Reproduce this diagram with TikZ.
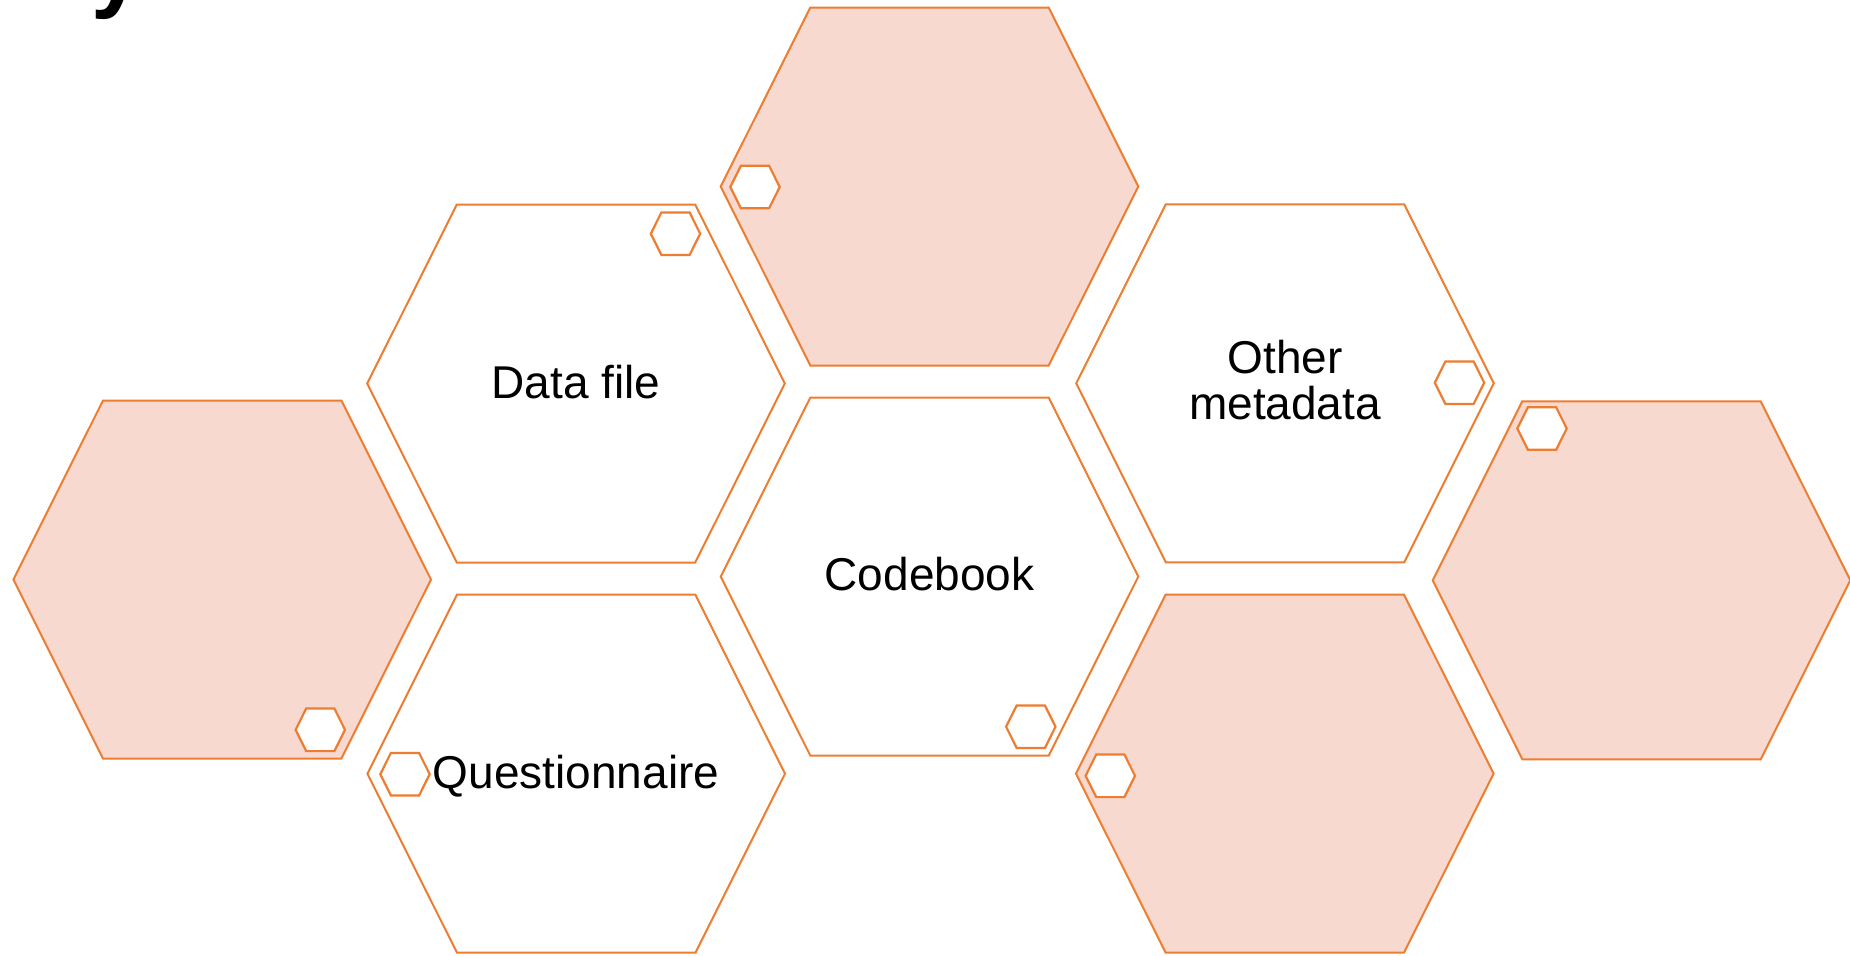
\documentclass[tikz,border=0pt]{standalone}
\usepackage{fontspec}
\setmainfont{Liberation Sans}
\definecolor{hexorange}{HTML}{ED7D31}
\definecolor{hexfill}{HTML}{F8D9CF}
\tikzset{
  hexline/.style={draw=hexorange, line width=1.0pt, line join=miter},
  hexfilled/.style={hexline, fill=hexfill},
  hexwhite/.style={hexline, fill=white},
  minihex/.style={draw=hexorange, line width=1.1pt, line join=miter, fill=white},
  pics/bighex/.style={code={\path[#1] (-208.8,0) -- (-119.2,-179) -- (119.2,-179) -- (208.8,0) -- (119.2,179) -- (-119.2,179) -- cycle;}},
  pics/smallhex/.style={code={\path[minihex] (-24.7,0) -- (-14.1,-21.3) -- (14.1,-21.3) -- (24.7,0) -- (14.1,21.3) -- (-14.1,21.3) -- cycle;}},
  hexlabel/.style={font=\fontsize{23}{23.35}\selectfont, text=black, inner sep=0pt, align=center},
}
\begin{document}
\begin{tikzpicture}[x=0.5pt, y=-0.5pt]
\useasboundingbox (0,0) rectangle (1850,955);
% large hexagons
\pic (hT) at (929.5,186.5) {bighex=hexfilled};
\pic (hD) at (576,383.5) {bighex=hexwhite};
\pic (hO) at (1285,383.3) {bighex=hexwhite};
\pic (hL) at (222.2,579.5) {bighex=hexfilled};
\pic (hC) at (929.5,576.6) {bighex=hexwhite};
\pic (hR) at (1641.5,580.3) {bighex=hexfilled};
\pic (hQ) at (576.2,773.7) {bighex=hexwhite};
\pic (hB) at (1284.8,773.6) {bighex=hexfilled};
% small hexagons
\pic (sT) at (755,187) {smallhex};
\pic (sD) at (675.5,233.7) {smallhex};
\pic (sO) at (1459.5,382.7) {smallhex};
\pic (sL) at (320.3,729.8) {smallhex};
\pic (sC) at (1030.8,726.7) {smallhex};
\pic (sR) at (1542,428.5) {smallhex};
\pic (sQ) at (405,774.2) {smallhex};
\pic (sB) at (1110.3,775.8) {smallhex};
% labels
\node[hexlabel, anchor=base] (tData) at (576,398.3) {Data file};
\node[hexlabel, anchor=center] (tOther) at (1285,379.9) {Other\\metadata};
\node[hexlabel, anchor=base] (tCode) at (929.5,590.7) {Codebook};
\node[hexlabel, anchor=base] (tQuest) at (576,788.3) {Questionnaire};
% fragment of a title above the picture
\node[font=\fontsize{46}{46}\selectfont\bfseries, anchor=base west, inner sep=0pt] (titlefrag) at (91,0) {y};
\end{tikzpicture}
\end{document}
